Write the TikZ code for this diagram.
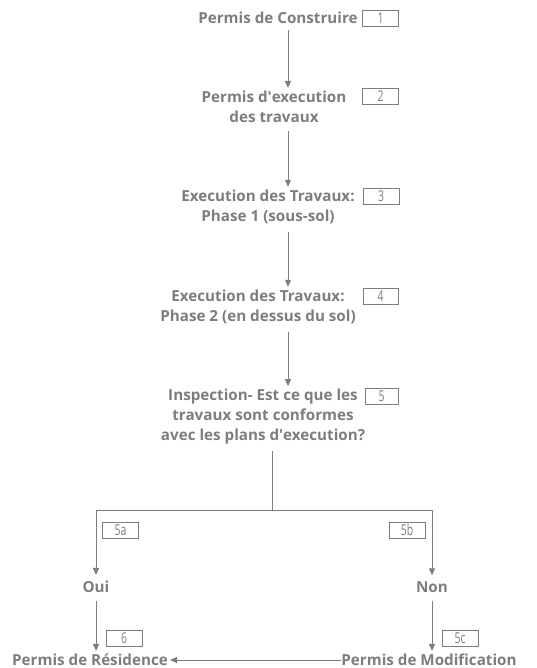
\documentclass[tikz,border=0pt]{standalone}
\usepackage{fontspec}
\setmainfont{Open Sans}
\usetikzlibrary{arrows.meta}
\definecolor{fg}{RGB}{125,125,128}
\tikzset{
  lbl/.style={text=fg, font=\bfseries\fontsize{15.2}{20}\selectfont, align=center, inner sep=0pt},
  numbox/.style={draw=fg, line width=0.8pt, text=fg, font=\fontsize{15}{15}\selectfont, minimum width=36pt, minimum height=16pt, inner sep=0pt},
  conn/.style={draw=fg, line width=1pt},
  arr/.style={conn, -{Triangle[width=6pt,length=7pt]}},
}
\newcommand{\nb}[1]{\raisebox{0.5pt}{\scalebox{0.7}[1]{#1}}}
\newcommand{\apo}{\textquotesingle}
\begin{document}
\begin{tikzpicture}[x=1pt,y=-1pt]
\useasboundingbox (0,0) rectangle (537,668);
\coordinate (ax) at (288,0);
\coordinate (bx) at (272,0);
% texts
\node[lbl] (t1) at (278,18) {Permis de Construire};
\node[lbl] (t2) at (274,107) {Permis d\apo execution\\des travaux};
\node[lbl] (t3) at (268,207) {Execution des Travaux:\\Phase 1 (sous-sol)};
\node[lbl] (t4) at (258,307) {Execution des Travaux:\\Phase 2 (en dessus du sol)};
\node[lbl] (t5) at (263,417) {Inspection- Est ce que les\\travaux sont conformes\\avec les plans d\apo execution?};
\node[lbl] (oui) at (96,587) {Oui};
\node[lbl] (non) at (432,587) {Non};
\node[lbl] (res) at (90,660) {Permis de R\'esidence};
\node[lbl] (mod) at (429,660) {Permis de Modification};
% number boxes
\node[numbox] (b1) at (380.5,18) {\nb{1}};
\node[numbox] (b2) at (380.5,96) {\nb{2}};
\node[numbox] (b3) at (381,196) {\nb{3}};
\node[numbox, minimum width=35pt] (b4) at (380.5,296) {\nb{4}};
\node[numbox, minimum width=33pt] (b5) at (381.5,396.5) {\nb{5}};
\node[numbox] (b5a) at (120.5,530.5) {\nb{5a}};
\node[numbox] (b5b) at (407,530.5) {\nb{5b}};
\node[numbox] (b6) at (124,638) {\nb{6}};
\node[numbox] (b5c) at (460,638) {\nb{5c}};
% connectors
\draw[arr, shorten <=6pt, shorten >=3pt] (t1.south -| ax) -- (t2.north -| ax);
\draw[arr, shorten <=8pt, shorten >=3pt] (t2.south -| ax) -- (t3.north -| ax);
\draw[arr, shorten <=8pt, shorten >=3pt] (t3.south -| ax) -- (t4.north -| ax);
\draw[arr, shorten <=8pt, shorten >=3pt] (t4.south -| ax) -- (t5.north -| ax);
\coordinate (split) at (272,510);
\draw[conn, shorten <=6pt] (t5.south -| bx) -- (split);
\draw[arr, shorten >=6pt] (split) -| (oui.north);
\draw[arr, shorten >=6pt] (split) -| (non.north);
\draw[arr, shorten <=8pt, shorten >=3pt] (oui) -- (res.north -| oui);
\draw[arr, shorten <=8pt, shorten >=3pt] (non) -- (mod.north -| non);
\draw[arr, shorten >=2pt] (mod.west) -- (res.east);
\end{tikzpicture}
\end{document}
